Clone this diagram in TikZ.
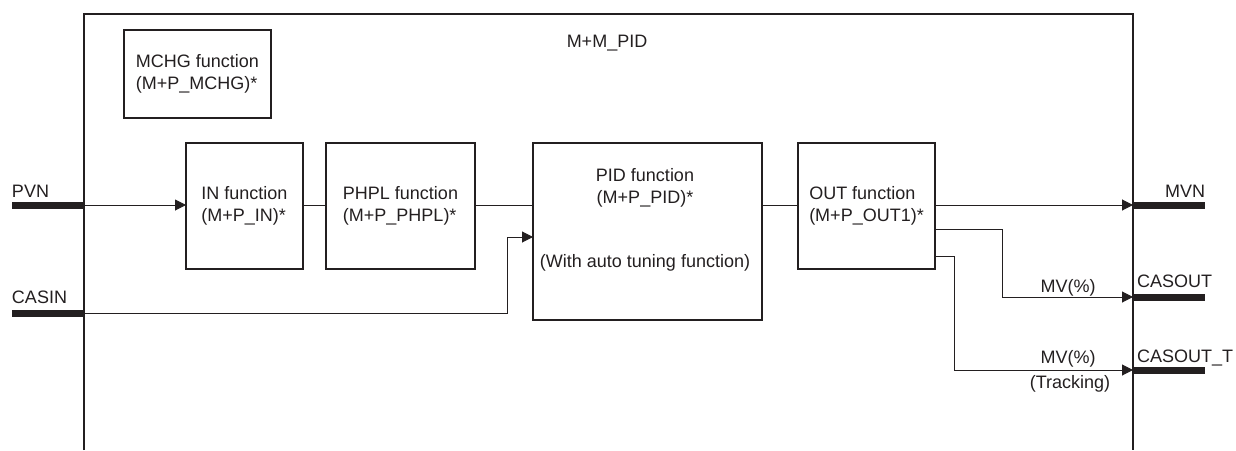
\documentclass[tikz,border=0pt]{standalone}
\usepackage{fontspec}
\setmainfont{Liberation Sans}
\usetikzlibrary{arrows.meta}
\definecolor{ink}{RGB}{35,31,32}
\begin{document}
\begin{tikzpicture}[x=1pt,y=-1pt,
  every node/.style={text=ink},
  lbl/.style={font=\fontsize{18}{21.5}\selectfont, inner sep=0pt, outer sep=0pt},
  fbox/.style={draw=ink, line width=1.2pt, anchor=north west, inner sep=0pt, outer sep=0pt, align=left, font=\fontsize{18}{21.5}\selectfont},
  wire/.style={draw=ink, line width=1pt},
  arr/.style={wire, -{Triangle[length=11pt,width=11pt]}},
  bar/.style={draw=ink, line width=7pt},
  frame/.style={draw=ink, line width=1.3pt},
]
\useasboundingbox (0,0) rectangle (1236,450);

% outer frame (open at the bottom)
\coordinate (fBL) at (84,450);
\coordinate (fTL) at (84,14);
\coordinate (fTR) at (1133,14);
\coordinate (fBR) at (1133,450);
\draw[frame] (fBL) -- (fTL) -- (fTR) -- (fBR);
\node[lbl, anchor=base] (title) at (607,47) {M+M\_PID};

% function blocks
\node[fbox, minimum width=147pt, minimum height=88pt] (mchg) at (124,30) {MCHG function\\(M+P\_MCHG)*};
\node[fbox, minimum width=117pt, minimum height=126pt] (in) at (186,143) {IN function\\(M+P\_IN)*};
\node[fbox, minimum width=149pt, minimum height=126pt] (phpl) at (326,143) {PHPL function\\(M+P\_PHPL)*};
\node[fbox, minimum width=229pt, minimum height=177pt] (pid) at (533,143) {};
\node[lbl, anchor=base] (pidl1) at (645,181) {PID function};
\node[lbl, anchor=base] (pidl2) at (645,203) {(M+P\_PID)*};
\node[lbl, anchor=base] (pidl3) at (645,267) {(With auto tuning function)};
\node[fbox, minimum width=137pt, minimum height=126pt] (out) at (798,143) {OUT function\\(M+P\_OUT1)*};

% terminals
\coordinate (pvnL) at (12,205);
\coordinate (pvnR) at (84,205);
\coordinate (casL) at (12,313);
\coordinate (casR) at (84,313);
\coordinate (mvnL) at (1133,205);
\coordinate (mvnR) at (1205,205);
\coordinate (coL) at (1133,297);
\coordinate (coR) at (1205,297);
\coordinate (cotL) at (1133,370);
\coordinate (cotR) at (1205,370);
\coordinate (casBend) at (507,237);
\coordinate (co1) at (1002,229);
\coordinate (co2) at (954,256);

\node[lbl, anchor=base west] (pvnlbl) at (12,197) {PVN};
\node[lbl, anchor=base west] (casinlbl) at (12,303) {CASIN};
\node[lbl, anchor=base east] (mvnlbl) at (1205,197) {MVN};
\node[lbl, anchor=base west] (colbl) at (1137,287) {CASOUT};
\node[lbl, anchor=base west] (cotlbl) at (1137,362) {CASOUT\_T};
\node[lbl, anchor=base] (mv1) at (1068,292) {MV(\%)};
\node[lbl, anchor=base] (mv2) at (1068,363) {MV(\%)};
\node[lbl, anchor=base] (trk) at (1070,388) {(Tracking)};

% connectors
\draw[arr] (pvnR) -- (pvnR -| in.west);
\draw[wire] (in.east |- pvnR) -- (phpl.west |- pvnR);
\draw[wire] (phpl.east |- pvnR) -- (pid.west |- pvnR);
\draw[wire] (pid.east |- pvnR) -- (out.west |- pvnR);
\draw[arr] (out.east |- mvnL) -- (mvnL);
\draw[arr] (casR) -| (casBend) -- (casBend -| pid.west);
\draw[arr] (out.east |- co1) -- (co1) |- (coL);
\draw[arr] (out.east |- co2) -- (co2) |- (cotL);

% thick terminal bars
\draw[bar] (pvnL) -- (pvnR);
\draw[bar] (casL) -- (casR);
\draw[bar] (mvnL) -- (mvnR);
\draw[bar] (coL) -- (coR);
\draw[bar] (cotL) -- (cotR);
\end{tikzpicture}
\end{document}
